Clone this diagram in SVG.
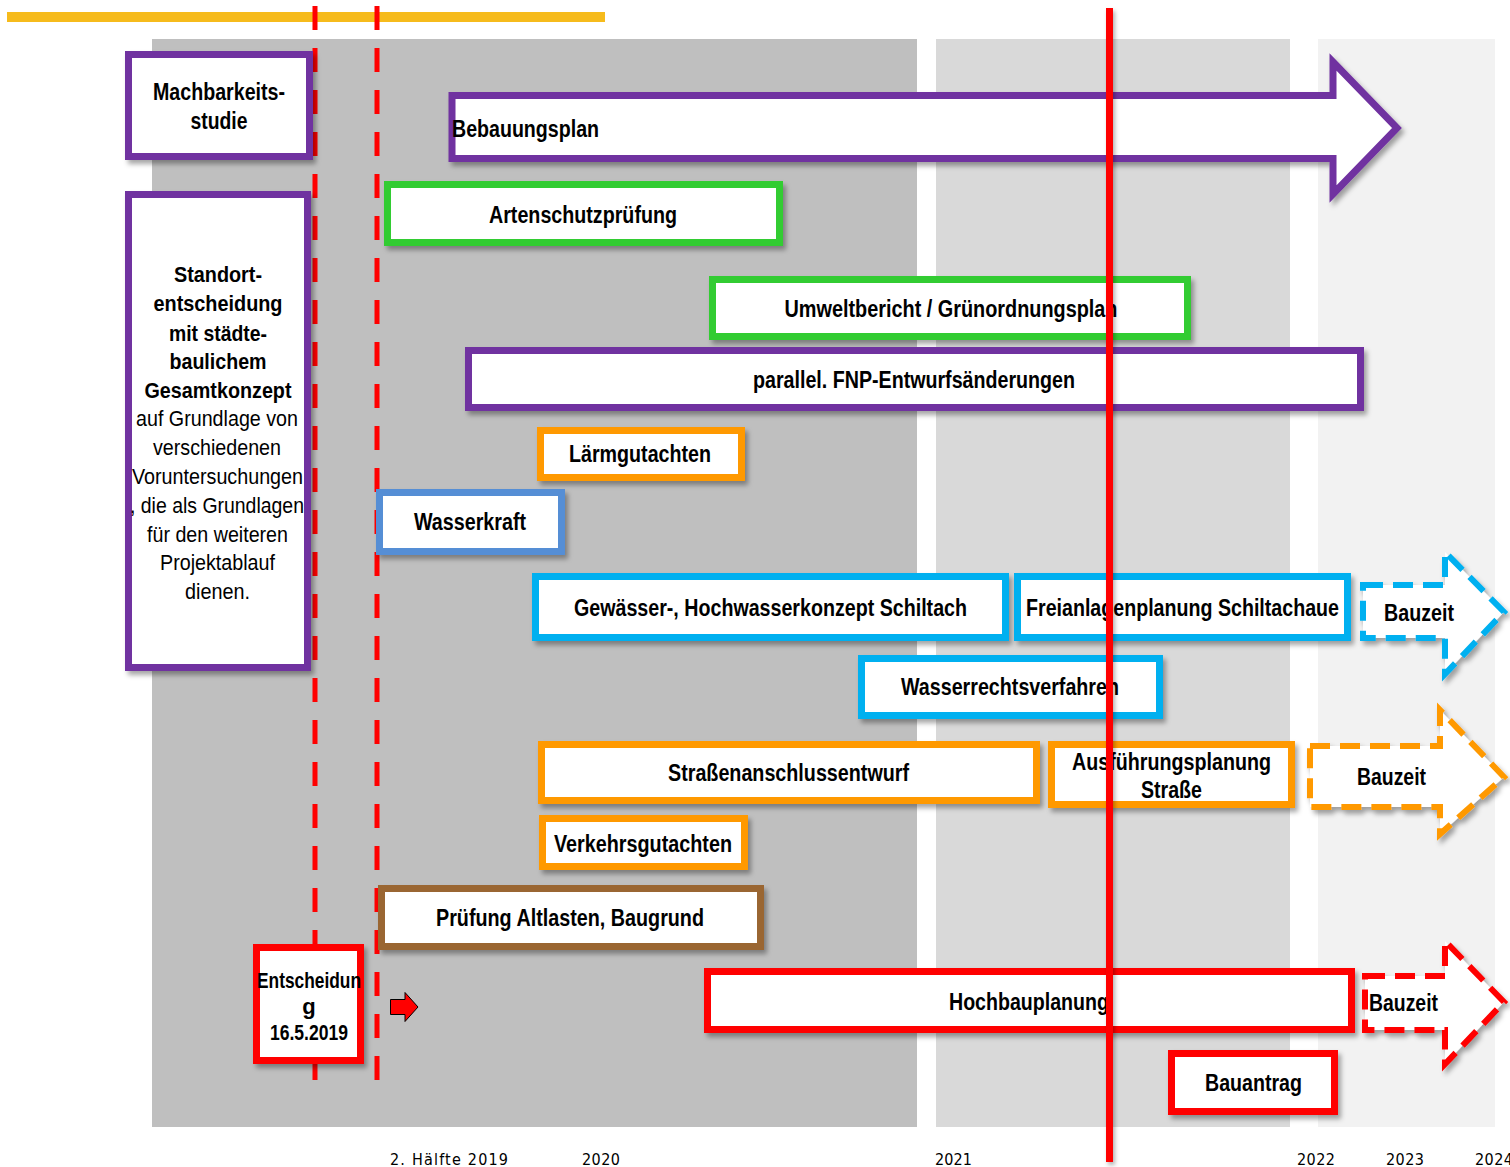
<svg xmlns="http://www.w3.org/2000/svg" width="1510" height="1167" viewBox="0 0 1510 1167">
<defs>
<filter id="sh" x="-10%" y="-10%" width="130%" height="140%">
<feDropShadow dx="3" dy="4" stdDeviation="2.5" flood-color="#000" flood-opacity="0.35"/>
</filter>
<filter id="shl" filterUnits="userSpaceOnUse" x="1090" y="0" width="40" height="1167">
<feDropShadow dx="2" dy="3" stdDeviation="2" flood-color="#000" flood-opacity="0.3"/>
</filter>
<style>
.box{fill:#fff;stroke-width:7;filter:url(#sh)}
.dash{fill:#fff;stroke-width:6;stroke-dasharray:20 10;filter:url(#sh)}
.pu{stroke:#7030A0}.gr{stroke:#33CC33}.or{stroke:#FF9900}.bl{stroke:#558ED5}.cy{stroke:#00B0F0}.br{stroke:#9A6633}.rd{stroke:#FF0000}
.t{font-family:"Liberation Sans",Arial,sans-serif;font-weight:bold;font-size:23px;text-anchor:middle;fill:#000}
.s{font-size:22px}
.n{font-weight:normal}
.ax{font-family:"DejaVu Sans",sans-serif;font-stretch:condensed;font-size:16px;fill:#000}
</style>
</defs>
<rect x="0" y="0" width="1510" height="1167" fill="#fff"/>
<g id="background">
<rect x="152" y="39" width="765" height="1088" fill="#BFBFBF"/>
<rect x="936" y="39" width="354" height="1088" fill="#D9D9D9"/>
<rect x="1318" y="39" width="177" height="1088" fill="#F2F2F2"/>
<line x1="7" y1="17" x2="605" y2="17" stroke="#F6BB1C" stroke-width="10"/>
</g>
<g id="connectors">
<line x1="315" y1="6" x2="315" y2="1095" stroke="#FF0000" stroke-width="5" stroke-dasharray="24 18"/>
<line x1="377" y1="6" x2="377" y2="1095" stroke="#FF0000" stroke-width="5" stroke-dasharray="24 18"/>
</g>
<g id="machbarkeit"><rect class="box pu" x="128.5" y="54.5" width="181" height="102"/>
<text class="t" x="219" y="100" textLength="132" lengthAdjust="spacingAndGlyphs">Machbarkeits-</text>
<text class="t" x="219" y="129" textLength="57" lengthAdjust="spacingAndGlyphs">studie</text></g>
<g id="standort"><rect class="box pu" x="128.5" y="194.5" width="179" height="473"/>
<text class="t s" x="218" y="282" textLength="88" lengthAdjust="spacingAndGlyphs">Standort-</text>
<text class="t s" x="218" y="311" textLength="129" lengthAdjust="spacingAndGlyphs">entscheidung</text>
<text class="t s" x="218" y="341" textLength="98" lengthAdjust="spacingAndGlyphs">mit städte-</text>
<text class="t s" x="218" y="369" textLength="97" lengthAdjust="spacingAndGlyphs">baulichem</text>
<text class="t s" x="218" y="398" textLength="147" lengthAdjust="spacingAndGlyphs">Gesamtkonzept</text>
<text class="t s n" x="217" y="426" textLength="162" lengthAdjust="spacingAndGlyphs">auf Grundlage von</text>
<text class="t s n" x="217" y="455" textLength="128" lengthAdjust="spacingAndGlyphs">verschiedenen</text>
<text class="t s n" x="217.5" y="484" textLength="171" lengthAdjust="spacingAndGlyphs">Voruntersuchungen</text>
<text class="t s n" x="217" y="513" textLength="174" lengthAdjust="spacingAndGlyphs">, die als Grundlagen</text>
<text class="t s n" x="217.5" y="542" textLength="141" lengthAdjust="spacingAndGlyphs">für den weiteren</text>
<text class="t s n" x="217.5" y="570" textLength="115" lengthAdjust="spacingAndGlyphs">Projektablauf</text>
<text class="t s n" x="217.5" y="599" textLength="65" lengthAdjust="spacingAndGlyphs">dienen.</text></g>
<g id="bebauungsplan"><polygon class="box pu" points="452,95.5 1333,95.5 1333,62 1397,128 1333,194 1333,158.5 452,158.5"/>
<text class="t" x="452" y="137" style="text-anchor:start" textLength="147" lengthAdjust="spacingAndGlyphs">Bebauungsplan</text></g>
<g id="artenschutz"><rect class="box gr" x="387.5" y="184.5" width="392" height="58"/>
<text class="t" x="583" y="223" textLength="188" lengthAdjust="spacingAndGlyphs">Artenschutzprüfung</text></g>
<g id="umwelt"><rect class="box gr" x="712.5" y="279.5" width="475" height="57"/>
<text class="t" x="951" y="317" textLength="333" lengthAdjust="spacingAndGlyphs">Umweltbericht / Grünordnungsplan</text></g>
<g id="fnp"><rect class="box pu" x="468.5" y="350.5" width="892" height="57"/>
<text class="t" x="914" y="388" textLength="322" lengthAdjust="spacingAndGlyphs">parallel. FNP-Entwurfsänderungen</text></g>
<g id="laerm"><rect class="box or" x="540.5" y="430.5" width="201" height="47"/>
<text class="t" x="640" y="462" textLength="142" lengthAdjust="spacingAndGlyphs">Lärmgutachten</text></g>
<g id="wasserkraft"><rect class="box bl" x="379.5" y="492.5" width="182" height="59"/>
<text class="t" x="470" y="530" textLength="112" lengthAdjust="spacingAndGlyphs">Wasserkraft</text></g>
<g id="gewaesser"><rect class="box cy" x="535.5" y="576.5" width="470" height="61"/>
<text class="t" x="770.5" y="616" textLength="393" lengthAdjust="spacingAndGlyphs">Gewässer-, Hochwasserkonzept Schiltach</text></g>
<g id="freianlagen"><rect class="box cy" x="1017.5" y="576.5" width="330" height="61"/>
<text class="t" x="1182.5" y="616" textLength="313" lengthAdjust="spacingAndGlyphs">Freianlagenplanung Schiltachaue</text></g>
<g id="bauzeit1"><polygon class="dash cy" points="1363,585 1445,585 1445,552 1504,612 1445,674 1445,638 1363,638"/>
<text class="t" x="1419" y="621" textLength="70" lengthAdjust="spacingAndGlyphs">Bauzeit</text></g>
<g id="wasserrecht"><rect class="box cy" x="861.5" y="658.5" width="298" height="57"/>
<text class="t" x="1010" y="695" textLength="218" lengthAdjust="spacingAndGlyphs">Wasserrechtsverfahren</text></g>
<g id="strassenanschluss"><rect class="box or" x="541.5" y="744.5" width="495" height="56"/>
<text class="t" x="788.5" y="781" textLength="241" lengthAdjust="spacingAndGlyphs">Straßenanschlussentwurf</text></g>
<g id="ausfuehrung"><rect class="box or" x="1051.5" y="744.5" width="240" height="60"/>
<text class="t" x="1171.5" y="770" textLength="199" lengthAdjust="spacingAndGlyphs">Ausführungsplanung</text>
<text class="t" x="1171.5" y="798" textLength="61" lengthAdjust="spacingAndGlyphs">Straße</text></g>
<g id="bauzeit2"><polygon class="dash or" points="1310,746 1440,746 1440,710 1504,777 1440,834 1440,807 1310,807"/>
<text class="t" x="1391.5" y="785" textLength="69" lengthAdjust="spacingAndGlyphs">Bauzeit</text></g>
<g id="verkehr"><rect class="box or" x="542.5" y="818.5" width="202" height="48"/>
<text class="t" x="643" y="852" textLength="178" lengthAdjust="spacingAndGlyphs">Verkehrsgutachten</text></g>
<g id="altlasten"><rect class="box br" x="381.5" y="888.5" width="379" height="58"/>
<text class="t" x="570" y="926" textLength="268" lengthAdjust="spacingAndGlyphs">Prüfung Altlasten, Baugrund</text></g>
<g id="entscheidung"><rect class="box rd" x="256.5" y="947.5" width="104" height="113"/>
<text class="t s" x="309" y="988" textLength="104" lengthAdjust="spacingAndGlyphs">Entscheidun</text>
<text class="t s" x="309" y="1014">g</text>
<text class="t s" x="309" y="1040" textLength="78" lengthAdjust="spacingAndGlyphs">16.5.2019</text></g>
<g id="pfeil"><polygon points="390.5,999.5 405,999.5 405,992.5 418,1007 405,1021.5 405,1014.5 390.5,1014.5" fill="#FF0000" stroke="#000" stroke-width="1"/></g>
<g id="hochbau"><rect class="box rd" x="707.5" y="971.5" width="644" height="58"/>
<text class="t" x="1029" y="1010" textLength="160" lengthAdjust="spacingAndGlyphs">Hochbauplanung</text></g>
<g id="bauzeit3"><polygon class="dash rd" points="1365,976 1445,976 1445,941 1504,1002 1445,1064 1445,1030 1365,1030"/>
<text class="t" x="1369" y="1011" style="text-anchor:start" textLength="69" lengthAdjust="spacingAndGlyphs">Bauzeit</text></g>
<g id="bauantrag"><rect class="box rd" x="1171.5" y="1053.5" width="163" height="58"/>
<text class="t" x="1253.5" y="1091" textLength="97" lengthAdjust="spacingAndGlyphs">Bauantrag</text></g>
<g id="heute"><rect x="1106" y="8" width="7" height="1154" fill="#FF0000" filter="url(#shl)"/></g>
<g id="achse">
<text class="ax" x="390" y="1165" textLength="118" lengthAdjust="spacing">2. Hälfte 2019</text>
<text class="ax" x="582" y="1165" textLength="38" lengthAdjust="spacing">2020</text>
<text class="ax" x="935" y="1165" textLength="37" lengthAdjust="spacing">2021</text>
<text class="ax" x="1297" y="1165" textLength="38" lengthAdjust="spacing">2022</text>
<text class="ax" x="1386" y="1165" textLength="38" lengthAdjust="spacing">2023</text>
<text class="ax" x="1475" y="1165" textLength="38" lengthAdjust="spacing">2024</text>
</g>
</svg>
